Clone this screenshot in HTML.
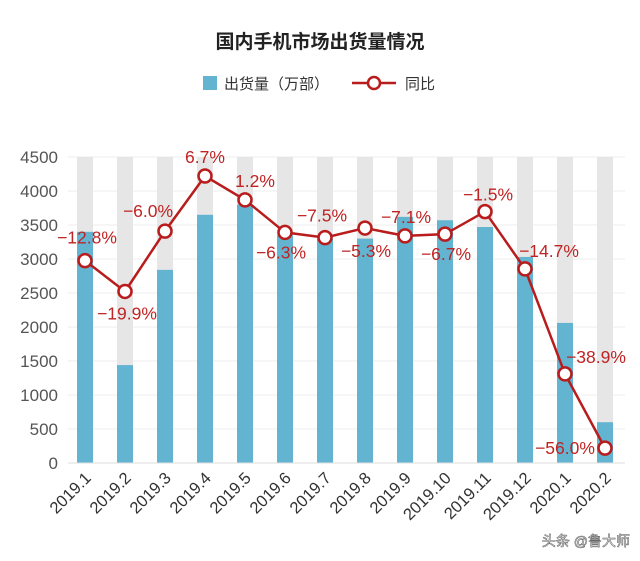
<!DOCTYPE html>
<html><head><meta charset="utf-8"><style>
body{margin:0;background:#fff;width:640px;height:556px;overflow:hidden;font-family:"Liberation Sans","Noto Sans CJK SC",sans-serif}
</style></head><body>
<svg id="c" width="640" height="556" xmlns="http://www.w3.org/2000/svg" font-family="Liberation Sans, Noto Sans CJK SC, sans-serif">
<text x="320" y="48" text-anchor="middle" font-size="19" font-weight="bold" fill="#222">国内手机市场出货量情况</text>
<g>
<rect x="203" y="76" width="14" height="14" fill="#62b4d0"/>
<text x="224" y="89" font-size="15" fill="#333">出货量（万部）</text>
<line x1="352" y1="83" x2="396" y2="83" stroke="#b81c1c" stroke-width="2.5"/>
<circle cx="374" cy="83" r="6" fill="#fff" stroke="#b81c1c" stroke-width="2.5"/>
<text x="405" y="89" font-size="15" fill="#333">同比</text>
</g>
<g id="plot"></g>
<text x="630" y="546" text-anchor="end" font-size="14" fill="#fff" stroke="#666" stroke-width="0.6">头条 @鲁大师</text>
</svg>
<script>
const categories=["2019.1","2019.2","2019.3","2019.4","2019.5","2019.6","2019.7","2019.8","2019.9","2019.10","2019.11","2019.12","2020.1","2020.2"];
const shipments=[3400,1440,2840,3650,3800,3350,3300,3300,3620,3570,3470,3030,2060,600];
const yoy=[-12.8,-19.9,-6.0,6.7,1.2,-6.3,-7.5,-5.3,-7.1,-6.7,-1.5,-14.7,-38.9,-56.0];
const yTicks=[0,500,1000,1500,2000,2500,3000,3500,4000,4500];
const labelDx=[2,2,-17,0,10,-4,-3,1,1,1,3,24,31,-40];
const labelDy=[-23,22,-20,-19,-19,20,-22,23,-19,20,-17,-18,-17,0];
const ns="http://www.w3.org/2000/svg";
const g=document.getElementById("plot");
const x0=85,step=40,yBase=463,yMax=4500,plotH=306;
const xs=i=>x0+i*step;
const ys=v=>yBase-v/yMax*plotH;
const ys2=v=>176+(6.7-v)*4.34;
function mk(t,a){const e=document.createElementNS(ns,t);for(const k in a)e.setAttribute(k,a[k]);g.appendChild(e);return e;}
yTicks.forEach(t=>{
const gl=mk("line",{x1:68,x2:625,y1:ys(t),y2:ys(t),stroke:"#eee","stroke-width":1});


const tl=mk("text",{x:58,y:ys(t)+6,"text-anchor":"end","font-size":17,fill:"#555"});
tl.textContent=t;


});
categories.forEach((c,i)=>{
const bg=mk("rect",{x:xs(i)-8,y:ys(yMax),width:16,height:plotH,fill:"#e6e6e6"});


const b=mk("rect",{x:xs(i)-8,y:ys(shipments[i]),width:16,height:yBase-ys(shipments[i]),fill:"#62b4d0"});


const xl=mk("text",{x:xs(i)+7,y:479,"text-anchor":"end","font-size":16.5,fill:"#333",transform:`rotate(-45 ${xs(i)+7} 479)`});
xl.textContent=c;


});
const ax=mk("line",{x1:68,x2:625,y1:yBase,y2:yBase,stroke:"#ddd"});


const pl=mk("polyline",{points:yoy.map((v,i)=>xs(i)+","+ys2(v)).join(" "),fill:"none",stroke:"#b81c1c","stroke-width":2.5});


yoy.forEach((v,i)=>{
const p=mk("circle",{cx:xs(i),cy:ys2(v),r:6.5,fill:"#fff",stroke:"#b81c1c","stroke-width":2.5});


const l=mk("text",{x:xs(i)+labelDx[i],y:ys2(v)+labelDy[i]+6,"text-anchor":"middle","font-size":17.5,fill:"#c02323"});
l.textContent=(v<0?"−"+(-v).toFixed(1):v.toFixed(1))+"%";


});
</script>
</body></html>
